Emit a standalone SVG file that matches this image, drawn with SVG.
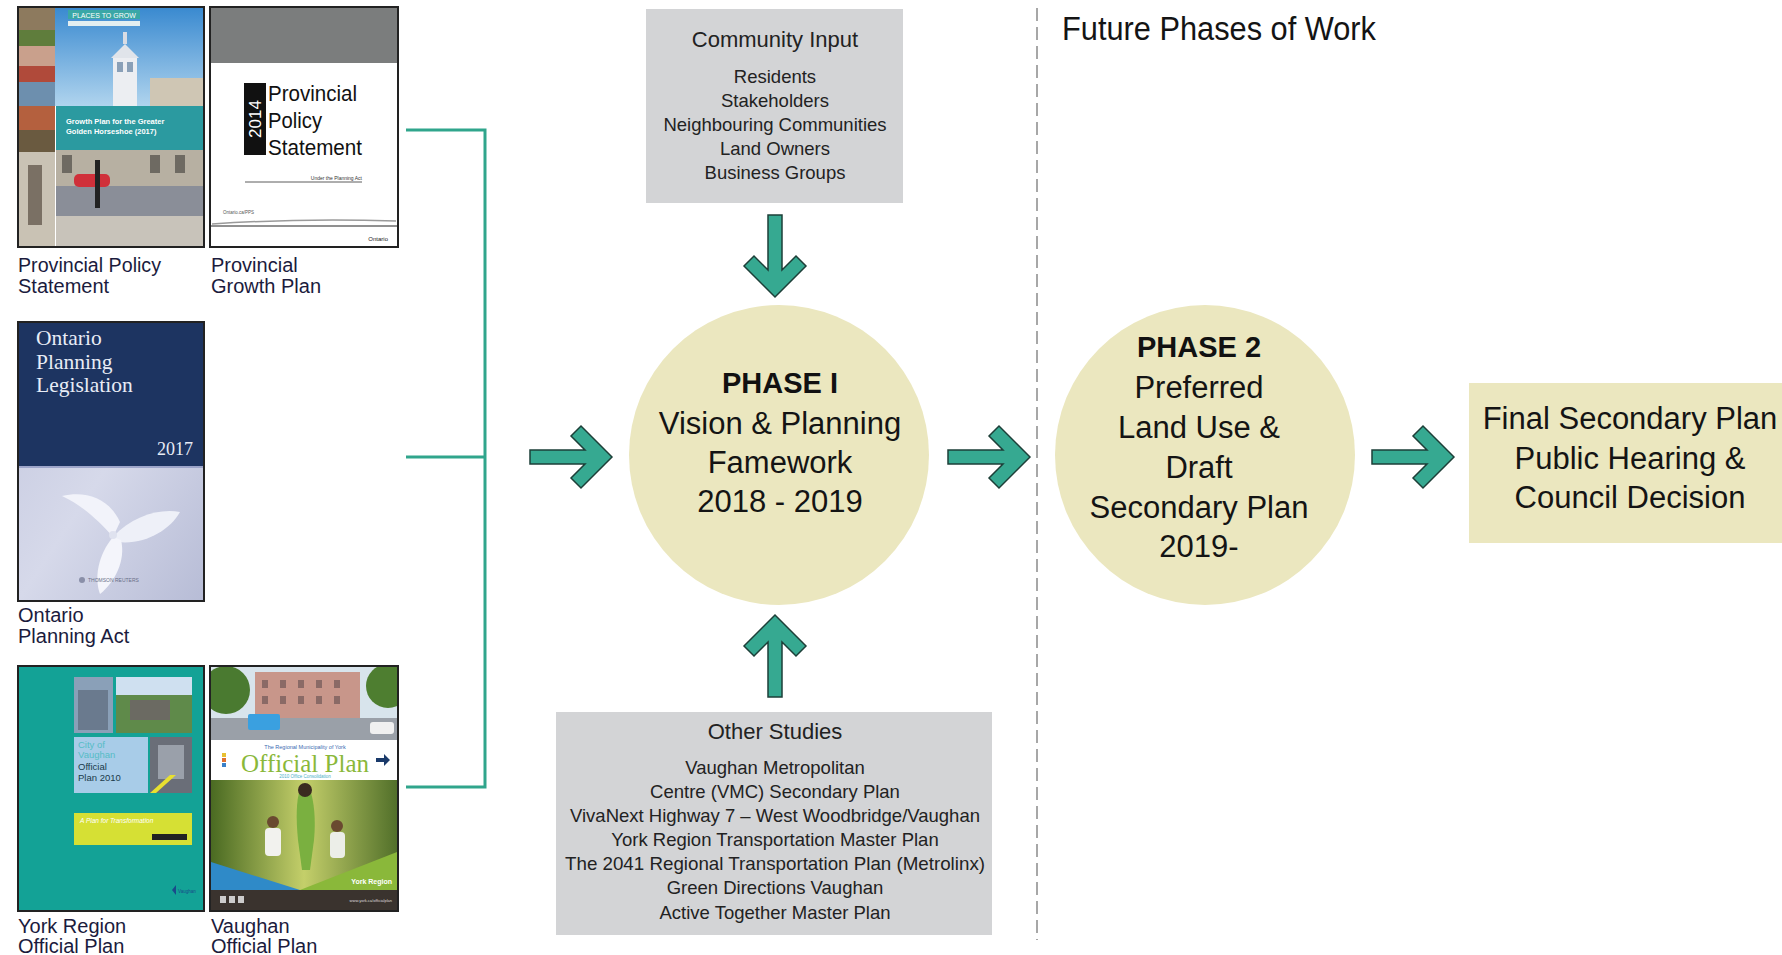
<svg xmlns="http://www.w3.org/2000/svg" width="1782" height="955" viewBox="0 0 1782 955">
<style>
  .sans { font-family: "Liberation Sans", Arial, "DejaVu Sans", sans-serif; }
  .serif { font-family: "Liberation Serif", "Times New Roman", serif; }
  .lbl { font-family: "Liberation Sans", Arial, sans-serif; font-size: 20px; fill: #1b1b3d; }
  .big { font-family: "Liberation Sans", Arial, sans-serif; font-size: 31px; fill: #141414; text-anchor: middle; }
  .bigb { font-family: "Liberation Sans", Arial, sans-serif; font-size: 29px; font-weight: bold; fill: #111; text-anchor: middle; }
  .boxt { font-family: "Liberation Sans", Arial, sans-serif; font-size: 22px; fill: #222; text-anchor: middle; }
  .boxi { font-family: "Liberation Sans", Arial, sans-serif; font-size: 18.5px; fill: #222; text-anchor: middle; }
  .cover { stroke: #222; stroke-width: 2; }
  .arrow { fill: #36a991; stroke: #1d3f38; stroke-width: 1.5; stroke-linejoin: miter; }
  .bracket { fill: none; stroke: #30a58c; stroke-width: 3; }
  .phase { fill: #ebe7bf; }
  .graybox { fill: #d3d4d6; }
</style>
<defs>
  <path id="arw" class="arrow" d="M0,0 L-31,-31 L-41,-21 L-27,-7 L-82,-7 L-82,7 L-27,7 L-41,21 L-31,31 Z"/>
  <linearGradient id="sky1" x1="0" y1="0" x2="0" y2="1">
    <stop offset="0" stop-color="#3a8ad0"/>
    <stop offset="1" stop-color="#b0d4ee"/>
  </linearGradient>
  <linearGradient id="lav" x1="0" y1="0" x2="1" y2="1">
    <stop offset="0" stop-color="#c3c7de"/>
    <stop offset="0.5" stop-color="#d6d9ea"/>
    <stop offset="1" stop-color="#b7bcd6"/>
  </linearGradient>
  <linearGradient id="forest" x1="0" y1="0" x2="1" y2="0">
    <stop offset="0" stop-color="#4a6a22"/>
    <stop offset="0.5" stop-color="#c4cf6a"/>
    <stop offset="1" stop-color="#52702a"/>
  </linearGradient>
  <clipPath id="c5top"><rect x="211" y="667" width="186" height="73"/></clipPath>
</defs>

<rect width="1782" height="955" fill="#ffffff"/>

<!-- Cover 1: Growth plan -->
<g id="cover-provincial-policy-statement">
  <rect x="18" y="7" width="186" height="240" fill="#ffffff" class="cover"/>
  <rect x="19" y="8" width="36" height="38" fill="#8d7a5e"/>
  <rect x="19" y="30" width="36" height="16" fill="#5f7d3c"/>
  <rect x="19" y="46" width="36" height="36" fill="#c9a08c"/>
  <rect x="19" y="66" width="36" height="16" fill="#b04a3a"/>
  <rect x="19" y="82" width="36" height="24" fill="#6d8fae"/>
  <rect x="19" y="106" width="36" height="46" fill="#b4603e"/>
  <rect x="19" y="130" width="36" height="22" fill="#6a5a40"/>
  <rect x="19" y="152" width="36" height="94" fill="#c9c2b4"/>
  <rect x="28" y="165" width="14" height="60" fill="#7a7064"/>
  <rect x="55" y="8" width="148" height="98" fill="url(#sky1)"/>
  <rect x="68" y="10" width="72" height="9" fill="#3aa7a6"/>
  <text x="104" y="17.5" class="sans" font-size="7" fill="#ffffff" text-anchor="middle">PLACES TO GROW</text>
  <rect x="68" y="21" width="72" height="5" fill="#e2eef0"/>
  <rect x="150" y="78" width="53" height="28" fill="#cfc6b4"/>
  <rect x="113" y="58" width="24" height="48" fill="#eceef2"/>
  <rect x="117" y="62" width="6" height="10" fill="#8aa0b8"/>
  <rect x="127" y="62" width="6" height="10" fill="#8aa0b8"/>
  <path d="M111,58 L125,44 L139,58 Z" fill="#e0e4ea"/>
  <rect x="123" y="32" width="4" height="12" fill="#d8dce4"/>
  <rect x="56" y="106" width="147" height="44" fill="#2b9aa0"/>
  <text x="66" y="124" class="sans" font-size="7.5" font-weight="bold" fill="#ffffff">Growth Plan for the Greater</text>
  <text x="66" y="134" class="sans" font-size="7.5" font-weight="bold" fill="#ffffff">Golden Horseshoe (2017)</text>
  <rect x="56" y="150" width="147" height="36" fill="#b7b0a2"/>
  <rect x="62" y="155" width="10" height="18" fill="#6e6a62"/>
  <rect x="150" y="155" width="10" height="18" fill="#6e6a62"/>
  <rect x="175" y="155" width="10" height="18" fill="#6e6a62"/>
  <rect x="56" y="186" width="147" height="30" fill="#8a8e98"/>
  <rect x="56" y="216" width="147" height="30" fill="#c8c3ba"/>
  <rect x="74" y="174" width="36" height="13" rx="5" fill="#d0303a"/>
  <rect x="95" y="160" width="5" height="48" fill="#222222"/>
</g>

<!-- Cover 2: PPS 2014 -->
<g id="cover-provincial-growth-plan">
  <rect x="210" y="7" width="188" height="240" fill="#ffffff" class="cover"/>
  <rect x="211" y="8" width="186" height="55" fill="#7b7d7d"/>
  <rect x="244" y="83" width="22" height="72" fill="#111111"/>
  <text x="0" y="0" class="sans" font-size="17" fill="#ffffff" text-anchor="middle" transform="translate(261,119) rotate(-90)">2014</text>
  <text x="268" y="101" class="sans" font-size="22" fill="#111" textLength="89" lengthAdjust="spacingAndGlyphs">Provincial</text>
  <text x="268" y="128" class="sans" font-size="22" fill="#111" textLength="54" lengthAdjust="spacingAndGlyphs">Policy</text>
  <text x="268" y="155" class="sans" font-size="22" fill="#111" textLength="94" lengthAdjust="spacingAndGlyphs">Statement</text>
  <line x1="245" y1="182" x2="362" y2="182" stroke="#333" stroke-width="0.8"/>
  <text x="362" y="180" class="sans" font-size="5" fill="#333" text-anchor="end">Under the Planning Act</text>
  <text x="223" y="214" class="sans" font-size="4.5" fill="#555">Ontario.ca/PPS</text>
  <path d="M212,224 Q300,218 396,221" fill="none" stroke="#9a9a9a" stroke-width="1.5"/>
  <line x1="211" y1="226" x2="397" y2="226" stroke="#222" stroke-width="1"/>
  <text x="388" y="241" class="sans" font-size="6" fill="#222" text-anchor="end">Ontario</text>
</g>

<!-- Cover 3: Ontario Planning Legislation -->
<g id="cover-ontario-planning-act">
  <rect x="18" y="322" width="186" height="279" fill="url(#lav)" class="cover"/>
  <rect x="19" y="323" width="184" height="143" fill="#1d3461"/>
  <line x1="19" y1="467" x2="203" y2="467" stroke="#8c96c0" stroke-width="1.5"/>
  <text x="36" y="345" class="serif" font-size="21.5" fill="#e8ecf6">Ontario</text>
  <text x="36" y="369" class="serif" font-size="21.5" fill="#e8ecf6">Planning</text>
  <text x="36" y="392" class="serif" font-size="21.5" fill="#e8ecf6">Legislation</text>
  <text x="193" y="455" class="serif" font-size="18" fill="#e8ecf6" text-anchor="end">2017</text>
  <path d="M113,537 C100,522 82,505 62,496 C88,490 110,500 120,522 Z" fill="#f2f3fa"/>
  <path d="M113,537 C132,516 160,508 180,512 C170,530 145,545 118,542 Z" fill="#eef0f8"/>
  <path d="M113,537 C98,555 94,578 100,594 C115,582 126,560 121,540 Z" fill="#f4f5fb"/>
  <circle cx="113" cy="535" r="4" fill="#dfe2ef"/>
  <circle cx="82" cy="580" r="3" fill="#8a8fa8"/>
  <text x="88" y="582" class="sans" font-size="5" fill="#6a6f88">THOMSON REUTERS</text>
</g>

<!-- Cover 4: York Region Official Plan (teal) -->
<g id="cover-york-region-official-plan">
  <rect x="18" y="666" width="186" height="245" fill="#13a296" class="cover"/>
  <rect x="74" y="677" width="39" height="56" fill="#8aa0b8"/>
  <rect x="78" y="690" width="30" height="40" fill="#6a7a8e"/>
  <rect x="116" y="677" width="76" height="56" fill="#5f8a4a"/>
  <rect x="116" y="677" width="76" height="18" fill="#cfe0f0"/>
  <rect x="130" y="700" width="40" height="20" fill="#6b6a62"/>
  <rect x="74" y="737" width="74" height="56" fill="#a8cce8"/>
  <text x="78" y="748" class="sans" font-size="9.5" fill="#56bcc6">City of</text>
  <text x="78" y="758" class="sans" font-size="9.5" fill="#56bcc6">Vaughan</text>
  <text x="78" y="770" class="sans" font-size="9.5" fill="#1a3a4a">Official</text>
  <text x="78" y="781" class="sans" font-size="9.5" fill="#1a3a4a">Plan 2010</text>
  <rect x="150" y="737" width="42" height="56" fill="#6a6e78"/>
  <rect x="158" y="745" width="26" height="34" fill="#9aa0aa"/>
  <path d="M150,793 L170,775 L176,775 L156,793 Z" fill="#e8e030"/>
  <rect x="74" y="813" width="118" height="32" fill="#d6e034"/>
  <text x="80" y="823" class="sans" font-size="6.5" font-style="italic" fill="#ffffff">A Plan for Transformation</text>
  <rect x="152" y="834" width="35" height="6" fill="#222"/>
  <path d="M172,890 L176,885 L176,895 Z" fill="#1a4a8a"/>
  <text x="178" y="893" class="sans" font-size="4.5" fill="#1a4a8a">Vaughan</text>
</g>

<!-- Cover 5: Vaughan Official Plan -->
<g id="cover-vaughan-official-plan">
  <rect x="210" y="666" width="188" height="245" fill="#ffffff" class="cover"/>
  <g clip-path="url(#c5top)">
    <rect x="211" y="667" width="186" height="73" fill="#d8e4ec"/>
    <rect x="255" y="672" width="105" height="50" fill="#c8968a"/>
    <rect x="262" y="680" width="6" height="8" fill="#8a6a66"/>
    <rect x="280" y="680" width="6" height="8" fill="#8a6a66"/>
    <rect x="298" y="680" width="6" height="8" fill="#8a6a66"/>
    <rect x="316" y="680" width="6" height="8" fill="#8a6a66"/>
    <rect x="334" y="680" width="6" height="8" fill="#8a6a66"/>
    <rect x="262" y="696" width="6" height="8" fill="#8a6a66"/>
    <rect x="280" y="696" width="6" height="8" fill="#8a6a66"/>
    <rect x="298" y="696" width="6" height="8" fill="#8a6a66"/>
    <rect x="316" y="696" width="6" height="8" fill="#8a6a66"/>
    <rect x="334" y="696" width="6" height="8" fill="#8a6a66"/>
    <circle cx="226" cy="690" r="24" fill="#4a7a30"/>
    <circle cx="388" cy="686" r="22" fill="#4e7e30"/>
    <rect x="211" y="718" width="186" height="22" fill="#9aa0a8"/>
    <rect x="248" y="714" width="32" height="16" rx="2" fill="#3aa0e0"/>
    <rect x="370" y="722" width="24" height="12" rx="3" fill="#f0f0f0"/>
  </g>
  <rect x="211" y="740" width="186" height="40" fill="#ffffff"/>
  <rect x="222" y="753" width="4" height="4" fill="#e8c030"/>
  <rect x="222" y="758" width="4" height="4" fill="#e07030"/>
  <rect x="222" y="763" width="4" height="4" fill="#3a80c8"/>
  <text x="305" y="749" class="sans" font-size="5.5" fill="#3a6ab0" text-anchor="middle">The Regional Municipality of York</text>
  <text x="305" y="772" class="serif" font-size="25" fill="#8ab83a" text-anchor="middle">Official Plan</text>
  <text x="305" y="778" class="sans" font-size="4.5" fill="#4ab0c8" text-anchor="middle">2010 Office Consolidation</text>
  <path d="M376,758 L384,758 L384,754 L390,760 L384,766 L384,762 L376,762 Z" fill="#1a3a6a"/>
  <rect x="211" y="780" width="186" height="110" fill="url(#forest)"/>
  <path d="M300,790 C296,800 296,820 298,840 L302,870 L310,870 L314,840 C316,820 314,800 310,790 Z" fill="#7ab040"/>
  <circle cx="305" cy="790" r="7" fill="#3a2a20"/>
  <rect x="265" y="828" width="16" height="28" rx="4" fill="#f2f2ee"/>
  <circle cx="273" cy="822" r="6" fill="#6a4a30"/>
  <rect x="330" y="832" width="15" height="26" rx="4" fill="#eceee8"/>
  <circle cx="337" cy="826" r="6" fill="#6a4a30"/>
  <path d="M211,862 L300,890 L211,890 Z" fill="#2f8ac8"/>
  <path d="M300,890 L397,852 L397,890 Z" fill="#8ab83a"/>
  <text x="392" y="884" class="sans" font-size="7" font-weight="bold" fill="#ffffff" text-anchor="end">York Region</text>
  <rect x="211" y="890" width="186" height="20" fill="#3a332e"/>
  <rect x="220" y="896" width="6" height="7" fill="#ccc"/>
  <rect x="229" y="896" width="6" height="7" fill="#ccc"/>
  <rect x="238" y="896" width="6" height="7" fill="#ccc"/>
  <text x="392" y="902" class="sans" font-size="4" fill="#ddd" text-anchor="end">www.york.ca/officialplan</text>
</g>

<!-- Cover labels -->
<g id="labels-covers">
  <text x="18" y="272" class="lbl" textLength="143" lengthAdjust="spacingAndGlyphs">Provincial Policy</text>
  <text x="18" y="293" class="lbl">Statement</text>
  <text x="211" y="272" class="lbl">Provincial</text>
  <text x="211" y="293" class="lbl">Growth Plan</text>
  <text x="18" y="622" class="lbl">Ontario</text>
  <text x="18" y="643" class="lbl">Planning Act</text>
  <text x="18" y="933" class="lbl">York Region</text>
  <text x="18" y="953" class="lbl">Official Plan</text>
  <text x="211" y="933" class="lbl">Vaughan</text>
  <text x="211" y="953" class="lbl">Official Plan</text>
</g>

<!-- Community Input -->
<g id="node-community-input">
  <rect x="646" y="9" width="257" height="194" class="graybox"/>
  <text x="775" y="47" class="boxt">Community Input</text>
  <text x="775" y="83" class="boxi">Residents</text>
  <text x="775" y="107" class="boxi">Stakeholders</text>
  <text x="775" y="131" class="boxi">Neighbouring Communities</text>
  <text x="775" y="155" class="boxi">Land Owners</text>
  <text x="775" y="179" class="boxi">Business Groups</text>
</g>

<!-- Other Studies -->
<g id="node-other-studies">
  <rect x="556" y="712" width="436" height="223" class="graybox"/>
  <text x="775" y="739" class="boxt">Other Studies</text>
  <text x="775" y="774" class="boxi">Vaughan Metropolitan</text>
  <text x="775" y="798" class="boxi">Centre (VMC) Secondary Plan</text>
  <text x="775" y="822" class="boxi">VivaNext Highway 7 – West Woodbridge/Vaughan</text>
  <text x="775" y="846" class="boxi">York Region Transportation Master Plan</text>
  <text x="775" y="870" class="boxi" textLength="420" lengthAdjust="spacingAndGlyphs">The 2041 Regional Transportation Plan (Metrolinx)</text>
  <text x="775" y="894" class="boxi">Green Directions Vaughan</text>
  <text x="775" y="919" class="boxi">Active Together Master Plan</text>
</g>

<!-- Phase 1 -->
<g id="node-phase-1">
  <circle cx="779" cy="455" r="150" class="phase"/>
  <text x="780" y="393" class="bigb">PHASE I</text>
  <text x="780" y="434" class="big">Vision &amp; Planning</text>
  <text x="780" y="473" class="big">Famework</text>
  <text x="780" y="512" class="big">2018 - 2019</text>
</g>

<!-- Phase 2 -->
<g id="node-phase-2">
  <circle cx="1205" cy="455" r="150" class="phase"/>
  <text x="1199" y="357" class="bigb">PHASE 2</text>
  <text x="1199" y="398" class="big">Preferred</text>
  <text x="1199" y="438" class="big">Land Use &amp;</text>
  <text x="1199" y="478" class="big">Draft</text>
  <text x="1199" y="518" class="big">Secondary Plan</text>
  <text x="1199" y="557" class="big">2019-</text>
</g>

<!-- Final -->
<g id="node-final">
  <rect x="1469" y="383" width="313" height="160" class="phase"/>
  <text x="1630" y="429" class="big">Final Secondary Plan</text>
  <text x="1630" y="469" class="big">Public Hearing &amp;</text>
  <text x="1630" y="508" class="big">Council Decision</text>
</g>

<!-- Future phases header -->
<g id="future-phases">
  <line x1="1037" y1="8" x2="1037" y2="940" stroke="#8a8a8a" stroke-width="1.5" stroke-dasharray="13 6"/>
  <text x="1062" y="40" class="sans" font-size="33" fill="#141414" textLength="314" lengthAdjust="spacingAndGlyphs">Future Phases of Work</text>
</g>

<!-- Connectors -->
<g id="connectors">
  <path class="bracket" d="M406,130 L485,130 L485,787 L406,787 M406,457 L485,457"/>
  <use href="#arw" transform="translate(612,457)"/>
  <use href="#arw" transform="translate(1030,457)"/>
  <use href="#arw" transform="translate(1454,457)"/>
  <use href="#arw" transform="translate(775,297) rotate(90)"/>
  <use href="#arw" transform="translate(775,615) rotate(-90)"/>
</g>
</svg>
